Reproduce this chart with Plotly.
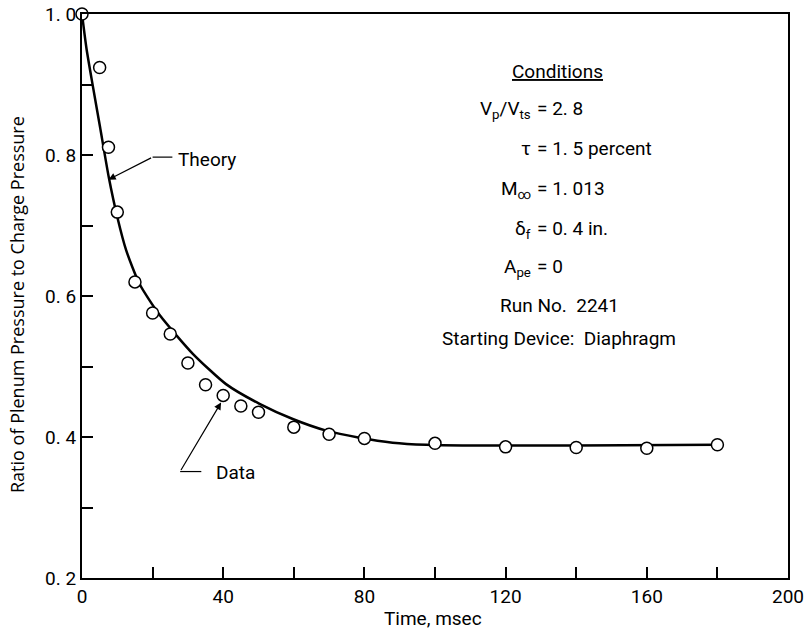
import plotly.graph_objects as go

# ---- data ----
data_t = [0, 5, 7.5, 10, 15, 20, 25, 30, 35, 40, 45, 50, 60, 70, 80, 100, 120, 140, 160, 180]
data_v = [1.0, 0.924, 0.811, 0.719, 0.620, 0.576, 0.546, 0.505, 0.474, 0.459, 0.444, 0.435,
          0.414, 0.404, 0.398, 0.391, 0.386, 0.385, 0.384, 0.389]

theory_t = [0, 1.3, 3.1, 5.1, 7.6, 10, 12.5, 16.3, 22, 31.4, 40.8, 50.3, 59.7, 69.2, 78.6,
            88, 97.5, 110, 140, 180]
theory_v = [1.0, 0.950, 0.897, 0.840, 0.768, 0.712, 0.665, 0.617, 0.573, 0.518, 0.475, 0.447,
            0.4255, 0.409, 0.399, 0.392, 0.389, 0.388, 0.388, 0.389]

x_ticks = [0, 40, 80, 120, 160, 200]
x_ticktext = ["0", "40", "80", "120", "160", "200"]
y_ticks = [0.2, 0.4, 0.6, 0.8, 1.0]
y_ticktext = ["0. 2", "0. 4", "0. 6", "0. 8", "1. 0"]

x_title = "Time, msec"
y_title = "Ratio of Plenum Pressure to Charge Pressure"

cond_left = ["V<sub>p</sub>/V<sub>ts</sub>", "τ", "M<sub>∞</sub>", "δ<sub>f</sub>", "A<sub>pe</sub>"]
cond_right = ["= 2. 8", "= 1. 5 percent", "= 1. 013", "= 0. 4 in.", "= 0"]

NARROW = "Roboto, Liberation Sans, sans-serif"
FS = 19

W, H = 808, 633
L, R, T, B = 82, 20, 14, 55
PW, PH = W - L - R, H - T - B


def px(xp):
    return (xp - L) / PW


def py(yp):
    return (H - B - yp) / PH


fig = go.Figure()
fig.add_trace(go.Scatter(x=theory_t, y=theory_v, mode="lines",
                         line=dict(color="black", width=2.5, shape="spline", smoothing=0.6),
                         showlegend=False, hoverinfo="skip", cliponaxis=False))
fig.add_trace(go.Scatter(x=data_t, y=data_v, mode="markers",
                         marker=dict(symbol="circle", size=12, color="white",
                                     line=dict(color="black", width=1.5)),
                         showlegend=False, cliponaxis=False))

font = dict(family=NARROW, size=FS, color="black")
anns = []
# Theory label with leader
anns.append(dict(x=7.5, y=0.765, ax=20.0, ay=0.797, xref="x", yref="y", axref="x", ayref="y",
                 text="", showarrow=True, arrowhead=2, arrowsize=1.2, arrowwidth=1.2, arrowcolor="black"))
anns.append(dict(x=26.7, y=0.794, xref="x", yref="y", text="Theory", showarrow=False,
                 xanchor="left", yanchor="middle", font=font))
# Data label with leader
anns.append(dict(x=39.4, y=0.449, ax=27.8, ay=0.351, xref="x", yref="y", axref="x", ayref="y",
                 text="", showarrow=True, arrowhead=2, arrowsize=1.2, arrowwidth=1.2, arrowcolor="black"))
anns.append(dict(x=37.3, y=0.350, xref="x", yref="y", text="Data", showarrow=False,
                 xanchor="left", yanchor="middle", font=font))

# Conditions block
anns.append(dict(x=px(557), y=py(71), xref="paper", yref="paper", text="<u>Conditions</u>",
                 showarrow=False, xanchor="center", yanchor="middle", font=font))
line_y = [108, 148, 188, 228, 266]
for lt, rt, yy in zip(cond_left, cond_right, line_y):
    anns.append(dict(x=px(533), y=py(yy - 13), xref="paper", yref="paper", text=lt,
                     showarrow=False, xanchor="right", yanchor="top", font=font))
    anns.append(dict(x=px(535), y=py(yy - 13), xref="paper", yref="paper", text=rt,
                     showarrow=False, xanchor="left", yanchor="top", font=font))
anns.append(dict(x=px(559), y=py(305), xref="paper", yref="paper", text="Run No.  2241",
                 showarrow=False, xanchor="center", yanchor="middle", font=font))
anns.append(dict(x=px(559), y=py(338), xref="paper", yref="paper", text="Starting Device:  Diaphragm",
                 showarrow=False, xanchor="center", yanchor="middle", font=font))

# axis titles
anns.append(dict(x=px(433), y=py(618), xref="paper", yref="paper", text=x_title,
                 showarrow=False, xanchor="center", yanchor="middle", font=font))
anns.append(dict(x=px(17), y=py(305), xref="paper", yref="paper", text=y_title, textangle=-90,
                 showarrow=False, xanchor="center", yanchor="middle",
                 font=dict(family="Open Sans, Noto Sans, sans-serif", size=18, color="black")))

shapes = [
    dict(type="line", xref="x", yref="y", x0=20.0, x1=25.6, y0=0.797, y1=0.797,
         line=dict(color="black", width=1.2)),
    dict(type="line", xref="x", yref="y", x0=27.8, x1=33.8, y0=0.351, y1=0.351,
         line=dict(color="black", width=1.2)),
]

axis_common = dict(showline=True, mirror=True, linecolor="black", linewidth=2,
                   ticks="inside", ticklen=11, tickwidth=1.5, tickcolor="black",
                   showgrid=False, zeroline=False, tickfont=font, automargin=False)

fig.update_layout(
    width=W, height=H, margin=dict(l=L, r=R, t=T, b=B, autoexpand=False),
    paper_bgcolor="white", plot_bgcolor="white",
    xaxis=dict(range=[0, 200], tickvals=x_ticks, ticktext=x_ticktext,
               minor=dict(dtick=20, tick0=0, ticks="inside", ticklen=11, tickwidth=1.5, tickcolor="black"),
               **axis_common),
    yaxis=dict(range=[0.2, 1.0], tickvals=y_ticks, ticktext=y_ticktext,
               minor=dict(dtick=0.1, tick0=0.2, ticks="inside", ticklen=11, tickwidth=1.5, tickcolor="black"),
               **axis_common),
    annotations=anns, shapes=shapes,
)

fig.write_html("out.html")
